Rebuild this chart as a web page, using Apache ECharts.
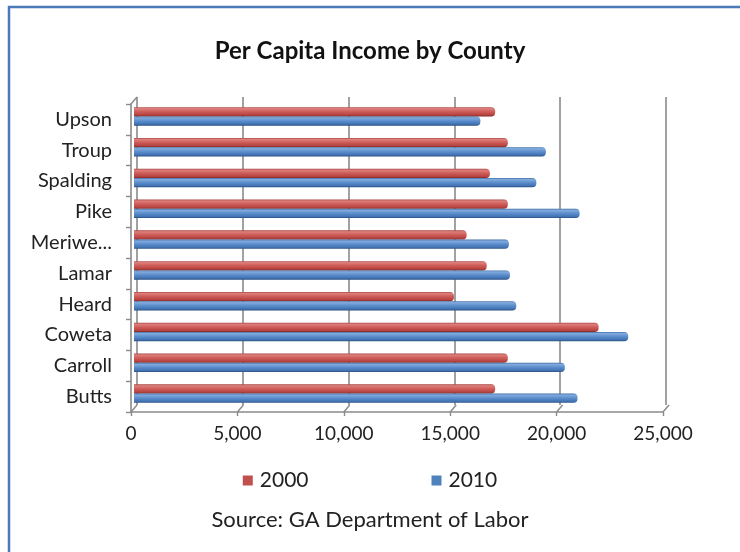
<!DOCTYPE html>
<html>
<head>
<meta charset="utf-8">
<script src="https://cdn.jsdelivr.net/npm/echarts@6/dist/echarts.min.js"></script>
<style>
  html, body { margin: 0; padding: 0; background: #fff; }
  #chart { width: 740px; height: 552px; }
</style>
</head>
<body>
<div id="chart"></div>
<script>
// Per capita income (USD) by county, 2000 vs 2010
const counties = ['Butts', 'Carroll', 'Coweta', 'Heard', 'Lamar', 'Meriwether', 'Pike', 'Spalding', 'Troup', 'Upson'];
const income2000 = [17100, 17700, 22000, 15150, 16700, 15750, 17700, 16850, 17700, 17100];
const income2010 = [21000, 20400, 23400, 18100, 17800, 17750, 21100, 19050, 19500, 16400];
const seriesNames = ['2000', '2010'];
const seriesColors = ['#c0504d', '#4f81bd'];
const xMax = 25000;
const xStep = 5000;
const xTicks = [0, 5000, 10000, 15000, 20000, 25000];

const FONT = 'Lato';
const GRID_GRAY = '#8a8a8a';

// cylinder-like shading for the bars
function tube(top, light, mid, low, bottom) {
  return new echarts.graphic.LinearGradient(0, 0, 0, 1, [
    { offset: 0, color: top },
    { offset: 0.15, color: light },
    { offset: 0.5, color: mid },
    { offset: 0.85, color: low },
    { offset: 1, color: bottom }
  ]);
}
const redTube = tube('#a94441', '#dd807d', '#cd5b57', '#b5423f', '#7d2a28');
const blueTube = tube('#3d6ca6', '#82abdd', '#5b8dcc', '#4072b1', '#294d7e');

const chart = echarts.init(document.getElementById('chart'));

const option = {
  backgroundColor: '#ffffff',
  animation: false,
  title: {
    text: 'Per Capita Income by County',
    left: 'center',
    top: 34,
    textStyle: { fontFamily: FONT, fontSize: 24, fontWeight: 'bold', color: '#111' }
  },
  legend: {
    data: seriesNames.map(function (name, i) {
      return { name: name, itemStyle: { color: seriesColors[i] } };
    }),
    left: 'center',
    top: 465,
    itemWidth: 10,
    itemHeight: 10,
    itemGap: 123,
    icon: 'rect',
    textStyle: { fontFamily: FONT, fontSize: 21, color: '#222', padding: [0, 0, 0, 2] }
  },
  graphic: [
    {
      type: 'rect',
      shape: { x: 9, y: 7, width: 800, height: 600 },
      style: { fill: 'none', stroke: '#4a7ab8', lineWidth: 2.5 },
      silent: true
    },
    {
      type: 'text',
      left: 'center',
      top: 509,
      style: { text: 'Source: GA Department of Labor', fontFamily: FONT, fontSize: 22, fill: '#222' }
    }
  ],
  grid: [
    // back wall with gridlines
    { left: 137, right: 74, top: 97, bottom: 147 },
    // bars
    { left: 134, right: 78, top: 101, bottom: 143 },
    // front axes
    { left: 131, right: 77, top: 104, bottom: 140 }
  ],
  xAxis: [
    {
      gridIndex: 0, type: 'value', min: 0, max: xMax, interval: xStep,
      axisLine: { show: false }, axisTick: { show: false }, axisLabel: { show: false },
      splitLine: { show: true, lineStyle: { color: GRID_GRAY, width: 1.6 } }
    },
    {
      gridIndex: 1, type: 'value', min: 0, max: xMax, interval: xStep,
      axisLine: { show: false }, axisTick: { show: false }, axisLabel: { show: false },
      splitLine: { show: false }
    },
    {
      gridIndex: 2, type: 'value', min: 0, max: xMax, interval: xStep,
      axisLine: { show: true, lineStyle: { color: GRID_GRAY, width: 1.6 } },
      axisTick: { show: true, length: 4, lineStyle: { color: GRID_GRAY, width: 1.4 } },
      axisLabel: { fontFamily: FONT, fontSize: 19, color: '#222', margin: 12 },
      splitLine: { show: false }
    }
  ],
  yAxis: [
    {
      gridIndex: 0, type: 'category', data: counties,
      axisLine: { show: false }, axisTick: { show: false }, axisLabel: { show: false }
    },
    {
      gridIndex: 1, type: 'category', data: counties,
      axisLine: { show: false }, axisTick: { show: false }, axisLabel: { show: false }
    },
    {
      gridIndex: 2, type: 'category', data: counties,
      axisLine: { show: true, lineStyle: { color: GRID_GRAY, width: 1.6 } },
      axisTick: { show: true, length: 5, lineStyle: { color: GRID_GRAY, width: 1.4 } },
      axisLabel: {
        fontFamily: FONT, fontSize: 20, color: '#222', margin: 19,
        width: 85, overflow: 'truncate', ellipsis: '...'
      }
    }
  ],
  series: [
    {
      name: seriesNames[0], type: 'bar', xAxisIndex: 1, yAxisIndex: 1,
      data: income2000,
      barGap: '0%', barCategoryGap: '40%',
      itemStyle: { color: redTube, borderRadius: [0, 4, 4, 0] }
    },
    {
      name: seriesNames[1], type: 'bar', xAxisIndex: 1, yAxisIndex: 1,
      data: income2010,
      barGap: '0%', barCategoryGap: '40%',
      itemStyle: { color: blueTube, borderRadius: [0, 4, 4, 0] }
    },
    {
      // floor edges joining the front value axis to the back wall
      type: 'custom', xAxisIndex: 2, yAxisIndex: 2, silent: true,
      data: xTicks.map(function (v) { return [v, 0]; }),
      renderItem: function (params, api) {
        const p = api.coord([api.value(0), api.value(1)]);
        const half = api.size([0, 1])[1] / 2;
        const y = p[1] + half;
        const children = [{
          type: 'line',
          shape: { x1: p[0], y1: y, x2: p[0] + 6, y2: y - 7 },
          style: { stroke: GRID_GRAY, lineWidth: 1.4 }
        }];
        if (params.dataIndex === 0) {
          const top = api.coord([0, counties.length - 1]);
          const yt = top[1] - half;
          children.push({
            type: 'line',
            shape: { x1: top[0], y1: yt, x2: top[0] + 6, y2: yt - 7 },
            style: { stroke: GRID_GRAY, lineWidth: 1.4 }
          });
        }
        return { type: 'group', children: children };
      },
      z: 1
    }
  ]
};

chart.setOption(option);
</script>
</body>
</html>
